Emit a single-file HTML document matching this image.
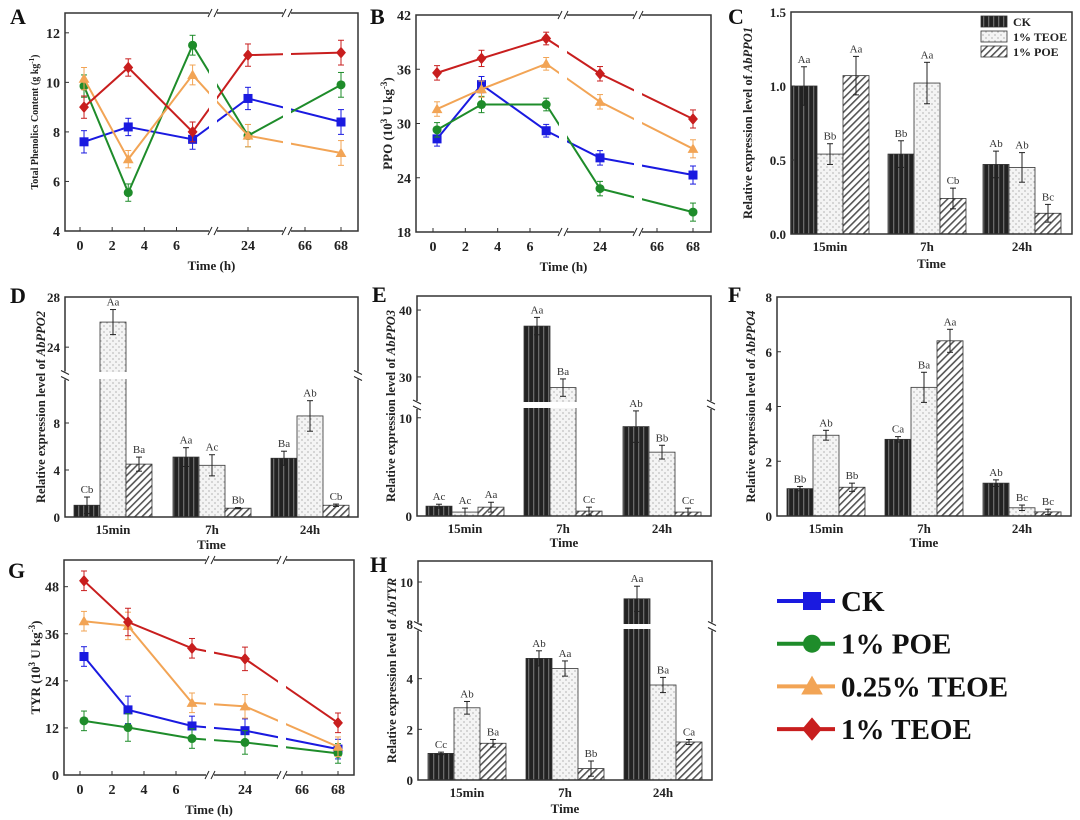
<!DOCTYPE html>
<html><head><meta charset="utf-8">
<style>
html,body{margin:0;padding:0;background:#fff;}
svg{display:block;font-family:"Liberation Serif",serif;}
</style></head>
<body>
<svg id="fig" width="1080" height="820" viewBox="0 0 1080 820" xmlns="http://www.w3.org/2000/svg">
<defs>
<pattern id="pCK" width="5" height="5" patternUnits="userSpaceOnUse"><rect width="5" height="5" fill="#222"/><rect x="3" width="1.3" height="5" fill="#6a6a6a"/></pattern>
<pattern id="pTE" width="6" height="6" patternUnits="userSpaceOnUse"><rect width="6" height="6" fill="#f4f4f4"/><circle cx="2" cy="2" r="0.6" fill="#888"/><circle cx="5" cy="5" r="0.6" fill="#888"/></pattern>
<pattern id="pPO" width="5" height="5" patternUnits="userSpaceOnUse" patternTransform="rotate(45)"><rect width="5" height="5" fill="#fff"/><rect width="1.6" height="5" fill="#555"/></pattern>
</defs>
</svg>
<script>
// ===== data =====
const times = [0.25, 3, 7, 24, 68];
const lineSeriesNames = ["CK", "1% POE", "0.25% TEOE", "1% TEOE"];
const A_ck = [7.6, 8.2, 7.7, 9.35, 8.4];
const A_poe = [9.85, 5.55, 11.5, 7.85, 9.9];
const A_te025 = [10.15, 6.9, 10.3, 7.85, 7.15];
const A_te1 = [9.0, 10.6, 8.0, 11.1, 11.2];
const A_err = [0.45, 0.35, 0.4, 0.45, 0.5];
const B_ck = [28.3, 34.3, 29.2, 26.2, 24.3];
const B_poe = [29.3, 32.1, 32.1, 22.8, 20.2];
const B_te025 = [31.6, 33.8, 36.6, 32.4, 27.2];
const B_te1 = [35.6, 37.2, 39.4, 35.5, 30.5];
const B_err = [0.8, 0.9, 0.7, 0.8, 1.0];
const G_ck = [30.2, 16.6, 12.5, 11.3, 6.6];
const G_poe = [13.8, 12.1, 9.3, 8.3, 5.5];
const G_te025 = [39.2, 38.0, 18.4, 17.5, 7.2];
const G_te1 = [49.5, 39.0, 32.3, 29.6, 13.3];
const G_err = [2.5, 3.5, 2.5, 3.0, 2.5];
const xTickLabels = ["0", "2", "4", "6", "24", "66", "68"];
const xTickVals = [0, 2, 4, 6, 24, 66, 68];
const groups = ["15min", "7h", "24h"];
const C_ck = [1.0, 0.54, 0.47], C_te = [0.54, 1.02, 0.45], C_po = [1.07, 0.24, 0.14];
const C_eck = [0.13, 0.09, 0.09], C_ete = [0.07, 0.14, 0.1], C_epo = [0.13, 0.07, 0.06];
const C_lab = [["Aa","Bb","Aa"],["Bb","Aa","Cb"],["Ab","Ab","Bc"]];
const D_ck = [1.0, 5.1, 5.0], D_te = [26.0, 4.4, 8.6], D_po = [4.5, 0.75, 1.0];
const D_eck = [0.7, 0.8, 0.6], D_ete = [1.0, 0.9, 1.3], D_epo = [0.6, 0.05, 0.1];
const D_lab = [["Cb","Aa","Ba"],["Aa","Ac","Bb"],["Ba","Ab","Cb"]];
const E_ck = [1.0, 37.6, 9.1], E_te = [0.4, 28.4, 6.5], E_po = [0.9, 0.5, 0.4];
const E_eck = [0.2, 1.3, 1.6], E_ete = [0.4, 1.3, 0.7], E_epo = [0.5, 0.4, 0.4];
const E_lab = [["Ac","Ac","Aa"],["Aa","Ba","Cc"],["Ab","Bb","Cc"]];
const F_ck = [1.0, 2.8, 1.2], F_te = [2.95, 4.7, 0.3], F_po = [1.05, 6.4, 0.15];
const F_eck = [0.08, 0.1, 0.12], F_ete = [0.18, 0.55, 0.1], F_epo = [0.15, 0.42, 0.1];
const F_lab = [["Bb","Ab","Bb"],["Ca","Ba","Aa"],["Ab","Bc","Bc"]];
const H_ck = [1.05, 4.8, 9.2], H_te = [2.85, 4.4, 3.75], H_po = [1.45, 0.45, 1.5];
const H_eck = [0.05, 0.3, 0.6], H_ete = [0.25, 0.3, 0.3], H_epo = [0.15, 0.3, 0.1];
const H_lab = [["Cc","Ab","Ba"],["Ab","Aa","Bb"],["Aa","Ba","Ca"]];

const svg = document.getElementById('fig');
const NS = "http://www.w3.org/2000/svg";
function el(tag, attrs, parent, text){
  const e = document.createElementNS(NS, tag);
  for (const k in attrs) e.setAttribute(k, attrs[k]);
  if (text !== undefined) e.textContent = text;
  (parent || svg).appendChild(e);
  return e;
}
const colors = ["#1a1ae0", "#1e8c2a", "#f2a455", "#c81e1e"];
const markers = ["square", "circle", "triangle", "diamond"];

function marker(g, type, x, y, c, s){
  let m;
  if (type === "square") m = el('rect', {x:x-s, y:y-s, width:2*s, height:2*s, fill:c}, g);
  else if (type === "circle") m = el('circle', {cx:x, cy:y, r:s, fill:c}, g);
  else if (type === "triangle") m = el('polygon', {points:`${x},${y-s*1.2} ${x+s*1.2},${y+s*0.9} ${x-s*1.2},${y+s*0.9}`, fill:c}, g);
  else m = el('polygon', {points:`${x},${y-s*1.3} ${x+s*1.1},${y} ${x},${y+s*1.3} ${x-s*1.1},${y}`, fill:c}, g);
  return m;
}
function breakMark(g, x, y, rot){
  const b = el('g', {transform:`translate(${x},${y}) rotate(${rot||0})`}, g);
  el('rect', {x:-4, y:-3, width:8, height:6, fill:'#fff'}, b);
  el('line', {x1:-5, y1:4, x2:-1, y2:-4, stroke:'#222', 'stroke-width':1}, b);
  el('line', {x1:1, y1:4, x2:5, y2:-4, stroke:'#222', 'stroke-width':1}, b);
}
function yTitle(g, x, y, parts, size){
  const t = el('text', {x:0, y:0, transform:`translate(${x},${y}) rotate(-90)`, 'text-anchor':'middle', 'font-size':size, 'font-weight':'bold', fill:'#222'}, g);
  parts.forEach(p => { el('tspan', p.attrs || {}, t, p.t); });
  return t;
}

// ===== line panels =====
function linePanel(cfg){
  const g = el('g', {});
  
  
  const L=cfg.box[0], T=cfg.box[1], R=cfg.box[2], Bt=cfg.box[3];
  const yS = v => Bt - (v - cfg.ymin) / (cfg.ymax - cfg.ymin) * (Bt - T);
  const xa = cfg.xa;
  const xS = t => t <= 10 ? xa[0] + t*(xa[1]-xa[0])/6 : (t < 50 ? xa[2] + (t-24)*(xa[1]-xa[0])/6 : xa[3] + (t-66)*(xa[4]-xa[3])/2);
  cfg.series.forEach((vals, si) => {
    const c = colors[si];
    const sg = el('g', {}, g);
    
    
    const pts = times.map((t,i) => [xS(t), yS(vals[i])]);
    el('polyline', {points: pts.map(p=>p.join(',')).join(' '), fill:'none', stroke:c, 'stroke-width':2}, sg);
    times.forEach((t,i) => {
      const x = xS(t), e = cfg.err[i];
      el('line', {x1:x, y1:yS(vals[i]+e), x2:x, y2:yS(vals[i]-e), stroke:c, 'stroke-width':1}, sg);
      el('line', {x1:x-3, y1:yS(vals[i]+e), x2:x+3, y2:yS(vals[i]+e), stroke:c, 'stroke-width':1}, sg);
      el('line', {x1:x-3, y1:yS(vals[i]-e), x2:x+3, y2:yS(vals[i]-e), stroke:c, 'stroke-width':1}, sg);
      const m = marker(sg, markers[si], x, yS(vals[i]), c, 4.5);
      
      
    });
  });
  cfg.brk.forEach(bx => el('rect', {x:bx-4, y:T+2, width:8, height:Bt-T-4, fill:'#fff'}, g));
  const fr = el('rect', {x:L, y:T, width:R-L, height:Bt-T, fill:'none', stroke:'#333', 'stroke-width':1.5}, g);
  
  
  cfg.yticks.forEach(v => {
    el('line', {x1:L, y1:yS(v), x2:L+4, y2:yS(v), stroke:'#333'}, g);
    const t = el('text', {x:L-5, y:yS(v)+5, 'text-anchor':'end', 'font-size':14, 'font-weight':'bold', fill:'#222'}, g, String(v));
    
    
  });
  xTickVals.forEach((v,i) => {
    const x = xS(v);
    el('line', {x1:x, y1:Bt, x2:x, y2:Bt-4, stroke:'#333'}, g);
    const t = el('text', {x:x, y:Bt+19, 'text-anchor':'middle', 'font-size':14, 'font-weight':'bold', fill:'#222'}, g, xTickLabels[i]);
    
    
  });
  cfg.brk.forEach(bx => { breakMark(g, bx, T, 0); breakMark(g, bx, Bt, 0); });
  const xt = el('text', {x:(L+R)/2, y:Bt+39, 'text-anchor':'middle', 'font-size':13, 'font-weight':'bold', fill:'#222'}, g, 'Time (h)');
  
  
  const yt = yTitle(g, cfg.ytx, (T+Bt)/2, cfg.ytitle, cfg.ytsize);
  
  
  const pl = el('text', {x:cfg.letter[0], y:cfg.letter[1], 'font-size':22, 'font-weight':'bold', fill:'#111'}, g, cfg.letterText);
  
  
}

linePanel({name:'panel-a-total-phenolics', box:[65,13,358,231], ymin:4, ymax:12.8, yticks:[4,6,8,10,12],
  xa:[80,176.5,248,305,341], brk:[213,287], series:[A_ck,A_poe,A_te025,A_te1], err:A_err,
  ytx:38, ytitle:[{t:'Total Phenolics Content (g kg'},{t:'-1',attrs:{'baseline-shift':'super','font-size':7}},{t:')'}], ytsize:10,
  letter:[10,24], letterText:'A'});
linePanel({name:'panel-b-ppo', box:[416,15,711,232], ymin:18, ymax:42, yticks:[18,24,30,36,42],
  xa:[433,530,600,657,693], brk:[563,638], series:[B_ck,B_poe,B_te025,B_te1], err:B_err,
  ytx:392, ytitle:[{t:'PPO (10'},{t:'3',attrs:{'baseline-shift':'super','font-size':9}},{t:' U kg',attrs:{'baseline-shift':'0'}},{t:'-3',attrs:{'baseline-shift':'super','font-size':9}},{t:')'}], ytsize:13,
  letter:[370,24], letterText:'B'});
linePanel({name:'panel-g-tyr', box:[64,560,354,775], ymin:0, ymax:54.8, yticks:[0,12,24,36,48],
  xa:[80,176,245,302,338], brk:[210,282], series:[G_ck,G_poe,G_te025,G_te1], err:G_err,
  ytx:40, ytitle:[{t:'TYR (10'},{t:'3',attrs:{'baseline-shift':'super','font-size':9}},{t:' U kg'},{t:'-3',attrs:{'baseline-shift':'super','font-size':9}},{t:')'}], ytsize:13,
  letter:[8,578], letterText:'G'});

// ===== bar panels =====
function barPanel(cfg){
  const g = el('g', {});
  
  
  const L=cfg.box[0], T=cfg.box[1], R=cfg.box[2], Bt=cfg.box[3];
  const segs = cfg.segs;
  const yS = v => {
    for (const s of segs) if (v <= s[1] || s === segs[segs.length-1]) return s[2] + (v - s[0])/(s[1]-s[0])*(s[3]-s[2]);
  };
  const fills = ['url(#pCK)', 'url(#pTE)', 'url(#pPO)'];
  const names = ['ck', 'teoe', 'poe'];
  const W = 26;
  const series = [cfg.ck, cfg.te, cfg.po];
  const errs = [cfg.eck, cfg.ete, cfg.epo];
  groups.forEach((gname, gi) => {
    const c = cfg.centers[gi];
    series.forEach((vals, si) => {
      const v = vals[gi];
      const x = c - 39 + si*W;
      const b = el('rect', {x:x, y:yS(v), width:W, height:Bt - yS(v), fill:fills[si], stroke:'#333', 'stroke-width':0.8}, g);
      
      
    });
  });
  if (cfg.gap) el('rect', {x:L+1, y:cfg.gap[0], width:R-L-2, height:cfg.gap[1]-cfg.gap[0], fill:'#fff'}, g);
  groups.forEach((gname, gi) => {
    const c = cfg.centers[gi];
    series.forEach((vals, si) => {
      const v = vals[gi], e = errs[si][gi];
      const xm = c - 39 + si*W + W/2;
      el('line', {x1:xm, y1:yS(v+e), x2:xm, y2:yS(Math.max(0,v-e)), stroke:'#222', 'stroke-width':1}, g);
      el('line', {x1:xm-3, y1:yS(v+e), x2:xm+3, y2:yS(v+e), stroke:'#222'}, g);
      el('line', {x1:xm-3, y1:yS(Math.max(0,v-e)), x2:xm+3, y2:yS(Math.max(0,v-e)), stroke:'#222'}, g);
      const lt = el('text', {x:xm, y:yS(v+e)-4, 'text-anchor':'middle', 'font-size':11, fill:'#333'}, g, cfg.lab[gi][si]);
      
      
    });
    const xt = el('text', {x:c, y:Bt+17, 'text-anchor':'middle', 'font-size':13, 'font-weight':'bold', fill:'#222'}, g, gname);
    
    
  });
  const fr = el('rect', {x:L, y:T, width:R-L, height:Bt-T, fill:'none', stroke:'#333', 'stroke-width':1.5}, g);
  
  
  if (cfg.gap) { const gm=(cfg.gap[0]+cfg.gap[1])/2; el('rect',{x:L-2,y:cfg.gap[0],width:4,height:cfg.gap[1]-cfg.gap[0],fill:'#fff'},g); el('rect',{x:R-2,y:cfg.gap[0],width:4,height:cfg.gap[1]-cfg.gap[0],fill:'#fff'},g); breakMark(g, L, gm, 90); breakMark(g, R, gm, 90); }
  cfg.yticks.forEach((v,i) => {
    el('line', {x1:L, y1:yS(v), x2:L+4, y2:yS(v), stroke:'#333'}, g);
    const t = el('text', {x:L-5, y:yS(v)+5, 'text-anchor':'end', 'font-size':13, 'font-weight':'bold', fill:'#222'}, g, cfg.ytickLabels[i]);
    
    
  });
  const xt = el('text', {x:(L+R)/2, y:cfg.timeY, 'text-anchor':'middle', 'font-size':13, 'font-weight':'bold', fill:'#222'}, g, 'Time');
  
  
  const yt = yTitle(g, cfg.ytx, (T+Bt)/2, [{t:'Relative expression level of '},{t:cfg.gene,attrs:{'font-style':'italic'}}], 12.5);
  
  
  const pl = el('text', {x:cfg.letter[0], y:cfg.letter[1], 'font-size':22, 'font-weight':'bold', fill:'#111'}, g, cfg.letterText);
  
  
  return g;
}

const gC = barPanel({name:'panel-c-abppo1', box:[791,12,1072,234], segs:[[0,1.5,234,12]], yticks:[0,0.5,1.0,1.5], ytickLabels:['0.0','0.5','1.0','1.5'],
  centers:[830,927,1022], ck:C_ck, te:C_te, po:C_po, eck:C_eck, ete:C_ete, epo:C_epo, lab:C_lab, timeY:268, ytx:752, gene:'AbPPO1', letter:[728,24], letterText:'C'});
barPanel({name:'panel-d-abppo2', box:[65,297,358,517], segs:[[0,12,517,376],[21.7,28,376,297]], yticks:[0,4,8,24,28], ytickLabels:['0','4','8','24','28'],
  centers:[113,212,310], ck:D_ck, te:D_te, po:D_po, eck:D_eck, ete:D_ete, epo:D_epo, lab:D_lab, timeY:549, ytx:45, gene:'AbPPO2', gap:[372,379], letter:[10,303], letterText:'D'});
barPanel({name:'panel-e-abppo3', box:[417,296,711,516], segs:[[0,11.3,516,405],[25.8,42.1,405,296]], yticks:[0,10,30,40], ytickLabels:['0','10','30','40'],
  centers:[465,563,662], ck:E_ck, te:E_te, po:E_po, eck:E_eck, ete:E_ete, epo:E_epo, lab:E_lab, timeY:547, ytx:395, gene:'AbPPO3', gap:[402,408], letter:[372,302], letterText:'E'});
barPanel({name:'panel-f-abppo4', box:[777,297,1071,516], segs:[[0,8,516,297]], yticks:[0,2,4,6,8], ytickLabels:['0','2','4','6','8'],
  centers:[826,924,1022], ck:F_ck, te:F_te, po:F_po, eck:F_eck, ete:F_ete, epo:F_epo, lab:F_lab, timeY:547, ytx:755, gene:'AbPPO4', letter:[728,302], letterText:'F'});
barPanel({name:'panel-h-abtyr', box:[418,561,712,780], segs:[[0,6,780,628],[8,11,624,561]], yticks:[0,2,4,8,10], ytickLabels:['0','2','4','8','10'],
  centers:[467,565,663], ck:H_ck, te:H_te, po:H_po, eck:H_eck, ete:H_ete, epo:H_epo, lab:H_lab, timeY:813, ytx:396, gene:'AbTYR', gap:[624,629], letter:[370,572], letterText:'H'});

const barLegendNames = ['CK', '1% TEOE', '1% POE'];
const lgC = el('g', {}, gC);


['url(#pCK)','url(#pTE)','url(#pPO)'].forEach((f,i) => {
  const y = 16 + i*15;
  const e = el('g', {}, lgC);
  
  
  el('rect', {x:981, y:y, width:26, height:11, fill:f, stroke:'#333', 'stroke-width':0.8}, e);
  el('text', {x:1013, y:y+10, 'font-size':12, 'font-weight':'bold', fill:'#222'}, e, barLegendNames[i]);
});

const lg = el('g', {});


lineSeriesNames.forEach((n, i) => {
  const y = 601 + i*42.7;
  const e = el('g', {}, lg);
  
  
  el('line', {x1:777, y1:y, x2:835, y2:y, stroke:colors[i], 'stroke-width':4}, e);
  marker(e, markers[i], 812, y, colors[i], 9);
  el('text', {x:841, y:y+10, 'font-size':29, 'font-weight':'bold', fill:'#111'}, e, n);
});
</script>
</body></html>
